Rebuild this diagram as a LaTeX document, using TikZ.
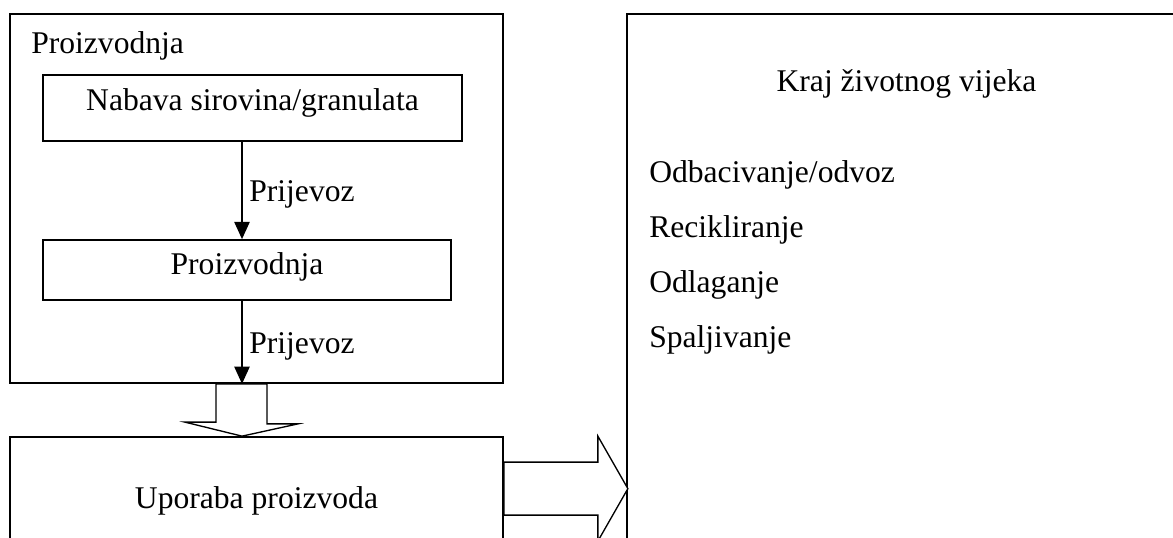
\documentclass[tikz,border=0pt]{standalone}
\usepackage{fontspec}
\setmainfont{Liberation Serif}
\usetikzlibrary{arrows.meta,fit,positioning}

\begin{document}
\begin{tikzpicture}[x=0.75pt,y=-0.75pt,
	every node/.style={font=\fontsize{23.7}{28}\selectfont},
	frame/.style={draw,line width=1.3pt,inner sep=0pt},
	stage/.style={frame,text height=0.68em,text depth=0.22em},
	flow/.style={line width=1.3pt,-{Triangle[length=13pt,width=11.5pt]}},
	fat/.style={draw,line width=1pt,fill=white}]
	\useasboundingbox (0,0) rectangle (1173,537);
	\clip (0,0) rectangle (1173,537);
	% production part
	\node[frame,fit={(10,14) (503,383)}] (prod) {};
	\node[anchor=base west,inner sep=0pt] (prodtitle) at (31,53) {Proizvodnja};
	\node[stage,text depth=0.34em,minimum width=314.25pt,minimum height=49.5pt] (nabava) at (252.5,108) {Nabava sirovina/granulata};
	\node[stage,text height=0.9em,text depth=0.16em,minimum width=306pt,minimum height=45pt] (proizv) at (247,270) {Proizvodnja};
	\coordinate (axis) at (242,0);
	\draw[flow] (nabava.south -| axis) -- node[right=1.5pt,yshift=-3pt] (trans1) {Prijevoz} (proizv.north -| axis);
	\draw[flow] (proizv.south -| axis) -- node[right=1.5pt,yshift=-3pt] (trans2) {Prijevoz} (prod.south -| axis);
	% use and end of life
	\node[stage,minimum width=369.75pt,minimum height=102.75pt] (uporaba) at (256.5,505.5) {Uporaba proizvoda};
	\node[frame,fit={(627,14) (1186,600)}] (kraj) {};
	\node[anchor=base] (krajtitle) at (906.5,91) {Kraj životnog vijeka};
	\foreach \fate [count=\i] in {{Odbacivanje/odvoz},Recikliranje,Odlaganje,Spaljivanje}
		\node[anchor=base west,inner sep=0pt] (end\i) at (649,126.7+55.3*\i) {\fate};
	% block arrows
	\draw[fat] (prod.south -| axis) ++(-26,0) -- ++(51,0) -- ++(0,40) -- ++(31,0)
		-- (uporaba.north -| axis) -- ++(-57,-14) -- ++(31,0) -- cycle;
	\draw[fat] (uporaba.north east) ++(0,26) -- ++(94,0) -- ++(0,-26) -- ++(30,52.5)
		-- ++(-30,52.5) -- ++(0,-26) -- ++(-94,0) -- cycle;
\end{tikzpicture}
\end{document}
